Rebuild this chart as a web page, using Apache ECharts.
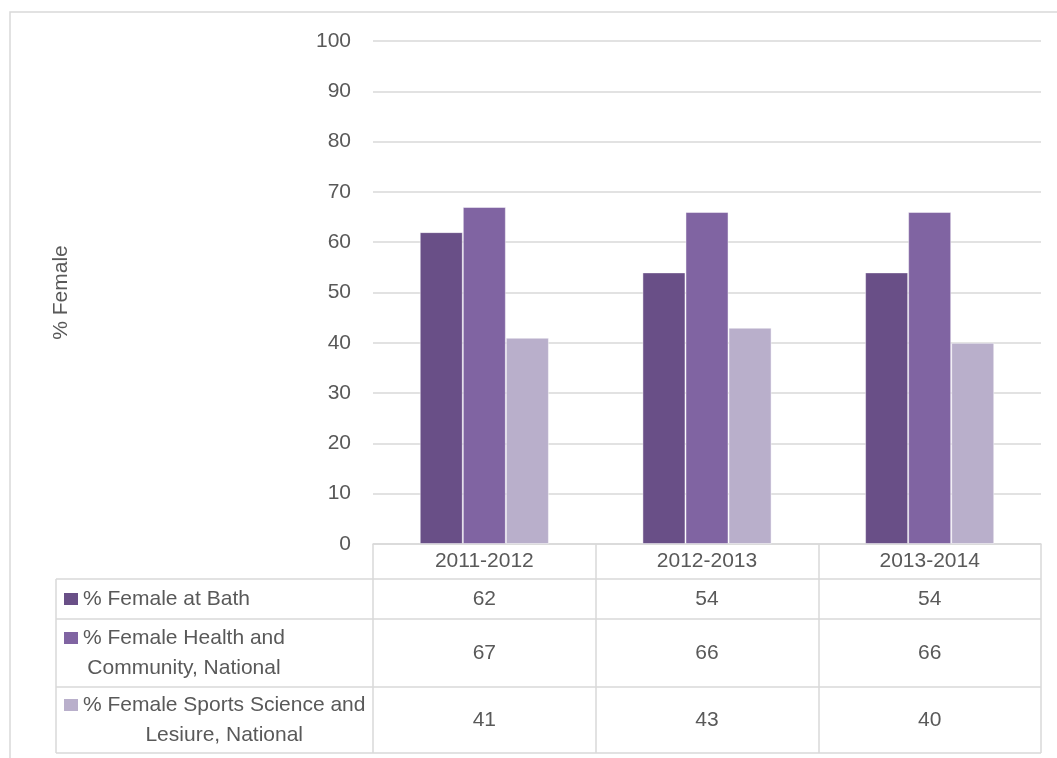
<!DOCTYPE html>
<html>
<head>
<meta charset="utf-8">
<script src="https://cdn.jsdelivr.net/npm/echarts@6/dist/echarts.min.js"></script>
<style>
html,body{margin:0;padding:0;background:#fff;}
#chart{width:1057px;height:758px;}
</style>
</head>
<body>
<div id="chart"></div>
<script>
// ---- data ----
const categories = ['2011-2012', '2012-2013', '2013-2014'];
const seriesNames = ['% Female at Bath', '% Female Health and\nCommunity, National', '% Female Sports Science and\nLesiure, National'];
const bath = [62, 54, 54];
const healthCommunity = [67, 66, 66];
const sportsScience = [41, 43, 40];
const yTicks = [0, 10, 20, 30, 40, 50, 60, 70, 80, 90, 100];
const yTitle = '% Female';

// ---- style ----
const colors = ['#694F87', '#8064A2', '#B9AFCB'];
const FONT = 'Liberation Sans';
const TXT = '#595959';
const LINE = '#D9D9D9';
const FS = 21;
const headerH = 35;
const rowHeights = [40, 68, 66];
const tableLeft = 56;

const seriesData = [bath, healthCommunity, sportsScience];

const chart = echarts.init(document.getElementById('chart'), null, {renderer: 'canvas'});

// label row axes (cell values)
let cum = headerH;
const rowAxes = seriesData.map((vals, i) => {
  const center = cum + rowHeights[i] / 2;
  cum += rowHeights[i];
  return {
    type: 'category',
    data: vals.map(String),
    position: 'bottom',
    axisLine: {show: false},
    axisTick: {show: false},
    splitLine: {show: false},
    axisLabel: {margin: center, verticalAlign: 'middle', color: TXT, fontSize: FS, fontFamily: FONT, interval: 0}
  };
});
const tableH = cum;

const option = {
  animation: false,
  backgroundColor: '#fff',
  grid: {left: 373, right: 16, top: 41, bottom: 214, containLabel: false},
  xAxis: [{
    type: 'category',
    data: categories,
    position: 'bottom',
    axisLine: {show: true, lineStyle: {color: LINE, width: 1.5}},
    axisTick: {show: true, length: tableH, interval: 0, lineStyle: {color: LINE, width: 1.5}},
    axisLabel: {margin: headerH / 2, verticalAlign: 'middle', color: TXT, fontSize: FS, fontFamily: FONT, interval: 0},
    splitLine: {show: false}
  }].concat(rowAxes),
  yAxis: {
    type: 'value',
    min: yTicks[0],
    max: yTicks[yTicks.length - 1],
    interval: 10,
    name: yTitle,
    nameLocation: 'middle',
    nameGap: 301,
    nameTextStyle: {color: TXT, fontSize: FS, fontFamily: FONT},
    axisLine: {show: false},
    axisTick: {show: false},
    axisLabel: {margin: 22, color: TXT, fontSize: FS, fontFamily: FONT},
    splitLine: {lineStyle: {color: LINE, width: 1.5}}
  },
  series: seriesData.map((d, i) => ({
    type: 'bar',
    name: seriesNames[i],
    data: d,
    xAxisIndex: 0,
    barGap: '0%',
    barCategoryGap: '42%',
    itemStyle: {color: colors[i], borderColor: 'rgba(255,255,255,0.45)', borderWidth: 1}
  }))
};
chart.setOption(option);

// ---- table lines and row headers ----
const y0 = chart.convertToPixel({yAxisIndex: 0}, 0);
const c0 = chart.convertToPixel({xAxisIndex: 0}, 0);
const c1 = chart.convertToPixel({xAxisIndex: 0}, 1);
const band = c1 - c0;
const gridRight = chart.convertToPixel({xAxisIndex: 0}, categories.length - 1) + band / 2;

const measure = (() => {
  const cv = document.createElement('canvas').getContext('2d');
  cv.font = FS + 'px "' + FONT + '"';
  return s => cv.measureText(s).width;
})();

const graphics = [];
// outer border
graphics.push({type: 'rect', shape: {x: 10, y: 12, width: 1200, height: 900}, style: {fill: 'none', stroke: LINE, lineWidth: 1.5}, silent: true});
let yy = y0 + headerH;
const lineYs = [yy];
rowHeights.forEach(h => { yy += h; lineYs.push(yy); });
lineYs.forEach(ly => graphics.push({type: 'line', shape: {x1: tableLeft, y1: ly, x2: gridRight, y2: ly}, style: {stroke: LINE, lineWidth: 1.5}, silent: true}));
graphics.push({type: 'line', shape: {x1: tableLeft, y1: lineYs[0], x2: tableLeft, y2: lineYs[lineYs.length - 1]}, style: {stroke: LINE, lineWidth: 1.5}, silent: true});

seriesNames.forEach((nm, i) => {
  const top = lineYs[i];
  const lines = nm.split('\n');
  const lh = 30;
  const blockH = lines.length * lh;
  const cy = top + rowHeights[i] / 2;
  const firstY = cy - blockH / 2 + lh / 2;
  const textX = tableLeft + 27;
  const maxW = Math.max.apply(null, lines.map(measure));
  graphics.push({type: 'rect', shape: {x: tableLeft + 8, y: firstY - 6, width: 14, height: 12}, style: {fill: colors[i]}, silent: true});
  graphics.push({type: 'text', x: textX + maxW / 2, y: firstY - lh / 2, style: {text: nm, fill: TXT, font: FS + 'px "' + FONT + '"', align: 'center', verticalAlign: 'top', lineHeight: lh}, silent: true});
});

chart.setOption({graphic: graphics});
</script>
</body>
</html>
